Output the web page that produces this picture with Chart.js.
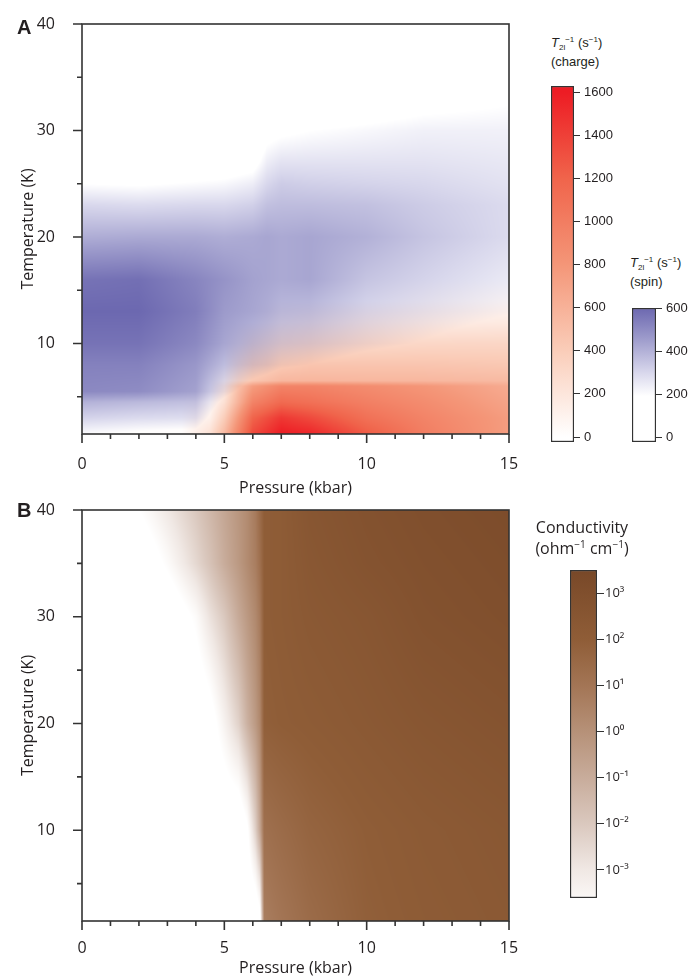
<!DOCTYPE html>
<html>
<head>
<meta charset="utf-8">
<script src="https://cdn.jsdelivr.net/npm/chart.js@4.4.0/dist/chart.umd.min.js"></script>
<style>
  body { margin: 0; background: #fff; width: 691px; height: 978px; position: relative; overflow: hidden; }
  canvas { position: absolute; }
  .lbl { position: absolute; white-space: nowrap; color: #231f20; }
  .panel { font-family: "Liberation Sans", Arial, sans-serif; font-weight: bold; font-size: 20px; line-height: 20px; }
  .cbt { font-family: "Liberation Sans", Arial, sans-serif; font-size: 13px; line-height: 17px; }
  .cond { font-family: "Open Sans", sans-serif; font-size: 16px; line-height: 21px; text-align: center; width: 110px; }
  .sb { font-size: 8px; position: relative; top: 3px; }
  .sp { font-size: 8px; position: relative; top: -5px; }
  .sp2 { font-size: 10px; position: relative; top: -6px; }
</style>
</head>
<body>
<canvas id="chartA" width="520" height="500" style="left:0;top:0"></canvas>
<canvas id="chartB" width="520" height="492" style="left:0;top:486px"></canvas>
<canvas id="barCharge" width="70" height="376" style="left:549px;top:76px"></canvas>
<canvas id="barSpin" width="70" height="154" style="left:630px;top:298px"></canvas>
<canvas id="barCond" width="80" height="348" style="left:568px;top:560px"></canvas>

<div class="lbl panel" style="left:17px;top:17px">A</div>
<div class="lbl panel" style="left:17px;top:500px">B</div>
<div class="lbl cbt" style="left:551px;top:34px"><i>T</i><span class="sb">2l</span><span class="sp">−1</span> (s<span class="sp">−1</span>)<br>(charge)</div>
<div class="lbl cbt" style="left:630px;top:254px"><i>T</i><span class="sb">2l</span><span class="sp">−1</span> (s<span class="sp">−1</span>)<br>(spin)</div>
<div class="lbl cond" style="left:527px;top:517px">Conductivity<br>(ohm<span class="sp2">−1</span> cm<span class="sp2">−1</span>)</div>

<script>
// axes
const pressureTicks = [0, 5, 10, 15];
const pressureMinorTicks = [1, 2, 3, 4, 6, 7, 8, 9, 11, 12, 13, 14];
const temperatureTicks = [10, 20, 30, 40];
const temperatureMinorTicks = [5, 15, 25, 35];

// spin T2l^-1 (s^-1): rows = temperature (K), cols = pressure (kbar)
const spinPressures = [0, 2, 4, 5, 6, 6.5, 7, 8, 10, 12, 15];
const spinTemps = [1.5, 3, 4.5, 5.5, 8, 10, 13, 16, 20, 23, 25, 27, 30, 33, 40];
const spinRate = [
  [200, 170, 150, 0, 0, 0, 0, 0, 0, 0, 0],
  [310, 290, 280, 60, 0, 0, 0, 0, 0, 0, 0],
  [400, 380, 360, 150, 0, 0, 0, 0, 0, 0, 0],
  [510, 500, 440, 250, 100, 50, 0, 0, 0, 0, 0],
  [530, 530, 470, 370, 300, 270, 220, 190, 120, 60, 0],
  [570, 570, 510, 430, 370, 340, 310, 290, 230, 180, 100],
  [600, 600, 540, 460, 430, 410, 380, 370, 300, 260, 200],
  [570, 580, 520, 480, 440, 430, 420, 430, 350, 310, 250],
  [410, 420, 420, 410, 420, 430, 420, 430, 400, 350, 290],
  [300, 290, 300, 300, 320, 360, 370, 370, 360, 330, 290],
  [190, 180, 200, 210, 240, 300, 330, 320, 310, 300, 270],
  [100, 90, 110, 120, 150, 240, 270, 270, 270, 270, 255],
  [0, 0, 0, 0, 60, 150, 170, 190, 210, 230, 230],
  [0, 0, 0, 0, 0, 0, 50, 80, 110, 150, 180],
  [0, 0, 0, 0, 0, 0, 0, 0, 0, 0, 0]
];

// charge T2l^-1 (s^-1)
const chargePressures = [0, 3.5, 4.5, 5, 5.5, 6, 7, 8, 10, 12, 15];
const chargeTemps = [1.5, 3, 4.5, 6, 6.5, 8, 10, 12, 14, 16];
const chargeRate = [
  [0, 20, 250, 550, 950, 1350, 1600, 1550, 1250, 1000, 750],
  [0, 0, 120, 400, 800, 1200, 1450, 1350, 1100, 950, 750],
  [0, 0, 40, 250, 600, 950, 1150, 1100, 980, 880, 700],
  [0, 0, 0, 150, 500, 750, 950, 950, 880, 800, 650],
  [0, 0, 0, 60, 300, 450, 560, 570, 560, 560, 540],
  [0, 0, 0, 0, 170, 310, 420, 460, 460, 460, 440],
  [0, 0, 0, 0, 40, 130, 220, 260, 300, 320, 330],
  [0, 0, 0, 0, 0, 0, 60, 90, 130, 150, 170],
  [0, 0, 0, 0, 0, 0, 0, 0, 0, 30, 50],
  [0, 0, 0, 0, 0, 0, 0, 0, 0, 0, 0]
];

// log10 conductivity (ohm^-1 cm^-1)
const condPressures = [0, 2, 3, 4, 4.5, 5, 5.5, 5.8, 6.1, 6.25, 6.4, 7, 8, 10, 12, 15];
const condTemps = [1.5, 10, 20, 30, 35, 40];
const logConductivity = [
  [-5, -5, -5, -5, -5, -5, -5, -5, -5, -4.5, 0.7, 1.0, 1.4, 1.9, 2.1, 2.3],
  [-5, -5, -5, -5, -5, -5, -5, -4.2, -2.2, -0.8, 1.2, 1.4, 1.7, 2.0, 2.2, 2.4],
  [-5, -5, -5, -5, -4.5, -3.4, -2.3, -1.2, -0.3, 0.3, 1.9, 2.0, 2.1, 2.3, 2.5, 2.7],
  [-5, -5, -5, -3.8, -2.8, -2.0, -0.9, -0.3, 0.3, 0.8, 2.0, 2.1, 2.3, 2.5, 2.8, 3.0],
  [-5, -5, -3.8, -2.5, -1.8, -1.0, -0.3, 0.2, 0.7, 1.2, 2.0, 2.1, 2.4, 2.7, 2.9, 3.1],
  [-5, -4.0, -3.0, -2.0, -1.4, -0.8, -0.2, 0.2, 0.8, 1.4, 2.0, 2.1, 2.5, 2.8, 3.0, 3.2]
];

// colour bar ticks
const chargeBarTicks = [0, 200, 400, 600, 800, 1000, 1200, 1400, 1600];
const spinBarTicks = [0, 200, 400, 600];
const condBarTicks = [-3, -2, -1, 0, 1, 2, 3];

// colour maps
const spinColors = [[0, [255, 255, 255]], [190, [255, 255, 255]], [300, [216, 215, 236]], [450, [160, 158, 205]], [600, [108, 104, 176]]];
const chargeColors = [[0, [255, 255, 255]], [400, [250, 205, 185]], [800, [244, 150, 120]], [1200, [240, 100, 75]], [1600, [237, 28, 36]]];
const condColors = [[-4, [255, 255, 255]], [-3.6, [250, 247, 245]], [-3, [240, 232, 228]], [-2, [218, 200, 190]], [-1, [200, 172, 155]],
  [0, [182, 145, 120]], [1, [163, 117, 85]], [2, [143, 93, 55]], [3, [128, 79, 45]], [3.5, [120, 72, 40]]];

const FONT = '"Open Sans", "Noto Sans", sans-serif';
const BAR_FONT = '"Liberation Sans", Arial, sans-serif';
const INK = '#231f20';
const LINE = '#333';

function locate(xs, v) {
  const n = xs.length - 1;
  if (v <= xs[0]) return [0, 0, 0];
  if (v >= xs[n]) return [n, n, 0];
  let i = 0;
  while (xs[i + 1] < v) i++;
  return [i, i + 1, (v - xs[i]) / (xs[i + 1] - xs[i])];
}

function sampleGrid(g, p, t) {
  const [c0, c1, fx] = locate(g.xs, p);
  const [r0, r1, fy] = locate(g.ys, t);
  const a = g.z[r0][c0] * (1 - fx) + g.z[r0][c1] * fx;
  const b = g.z[r1][c0] * (1 - fx) + g.z[r1][c1] * fx;
  return a * (1 - fy) + b * fy;
}

function colorAt(stops, v) {
  if (v <= stops[0][0]) return stops[0][1];
  for (let k = 1; k < stops.length; k++) {
    if (v <= stops[k][0]) {
      const [v0, c0] = stops[k - 1];
      const [v1, c1] = stops[k];
      const f = (v - v0) / (v1 - v0);
      return [c0[0] + (c1[0] - c0[0]) * f, c0[1] + (c1[1] - c0[1]) * f, c0[2] + (c1[2] - c0[2]) * f];
    }
  }
  return stops[stops.length - 1][1];
}

// paints the grids into the chart area, fields are multiplied together
const heatmap = {
  id: 'heatmap',
  beforeDatasetsDraw(chart) {
    const {ctx, chartArea: a, scales: {x, y}} = chart;
    const fields = chart.data.datasets.filter(d => d.grid);
    const x0 = Math.round(a.left), y0 = Math.round(a.top);
    const w = Math.round(a.right) - x0, h = Math.round(a.bottom) - y0;
    const img = ctx.createImageData(w, h);
    const ps = [], ts = [];
    for (let i = 0; i < w; i++) ps.push(x.getValueForPixel(x0 + i + 0.5));
    for (let j = 0; j < h; j++) ts.push(y.getValueForPixel(y0 + j + 0.5));
    for (let j = 0; j < h; j++) {
      for (let i = 0; i < w; i++) {
        let r = 255, g = 255, b = 255;
        fields.forEach(f => {
          const c = colorAt(f.colors, sampleGrid(f.grid, ps[i], ts[j]));
          r = r * c[0] / 255; g = g * c[1] / 255; b = b * c[2] / 255;
        });
        const k = (j * w + i) * 4;
        img.data[k] = r; img.data[k + 1] = g; img.data[k + 2] = b; img.data[k + 3] = 255;
      }
    }
    ctx.putImageData(img, x0, y0);
  }
};

// box around the plot plus major/minor tick marks
const frame = {
  id: 'frame',
  afterDraw(chart) {
    const {ctx, chartArea: a, scales: {x, y}} = chart;
    ctx.save();
    ctx.strokeStyle = LINE;
    ctx.lineWidth = 1.6;
    ctx.strokeRect(a.left, a.top, a.right - a.left, a.bottom - a.top);
    ctx.beginPath();
    pressureTicks.forEach(v => { const px = x.getPixelForValue(v); ctx.moveTo(px, a.bottom); ctx.lineTo(px, a.bottom + 9); });
    pressureMinorTicks.forEach(v => { const px = x.getPixelForValue(v); ctx.moveTo(px, a.bottom); ctx.lineTo(px, a.bottom + 5); });
    temperatureTicks.forEach(v => { const py = y.getPixelForValue(v); ctx.moveTo(a.left, py); ctx.lineTo(a.left - 9, py); });
    temperatureMinorTicks.forEach(v => { const py = y.getPixelForValue(v); ctx.moveTo(a.left, py); ctx.lineTo(a.left - 5, py); });
    ctx.stroke();
    ctx.restore();
  }
};

function panelOptions(xAxisHeight, labelPad, titlePad) {
  const font = {family: FONT, size: 16};
  return {
    responsive: false,
    animation: false,
    events: [],
    layout: {padding: {top: 24, right: 11, left: 0, bottom: 0}},
    plugins: {legend: {display: false}, tooltip: {enabled: false}},
    scales: {
      x: {
        type: 'linear', min: 0, max: 15,
        afterBuildTicks: s => { s.ticks = pressureTicks.map(v => ({value: v})); },
        afterFit: s => { s.height = xAxisHeight; s.paddingLeft = 0; s.paddingRight = 0; },
        grid: {display: false}, border: {display: false},
        ticks: {padding: labelPad, color: INK, font, maxRotation: 0, autoSkip: false},
        title: {display: true, text: 'Pressure (kbar)', color: INK, font, padding: {top: 0, bottom: titlePad}}
      },
      y: {
        type: 'linear', min: 1.5, max: 40,
        afterBuildTicks: s => { s.ticks = temperatureTicks.map(v => ({value: v})); },
        afterFit: s => { s.width = 82; s.paddingTop = 0; s.paddingBottom = 0; },
        grid: {display: false}, border: {display: false},
        ticks: {padding: 19, color: INK, font},
        title: {display: true, text: 'Temperature (K)', color: INK, font, padding: {top: 19, bottom: 0}}
      }
    }
  };
}

new Chart(document.getElementById('chartA'), {
  type: 'scatter',
  data: {
    datasets: [
      {label: 'spin', data: [], grid: {xs: spinPressures, ys: spinTemps, z: spinRate}, colors: spinColors},
      {label: 'charge', data: [], grid: {xs: chargePressures, ys: chargeTemps, z: chargeRate}, colors: chargeColors}
    ]
  },
  options: panelOptions(66, 13, 2),
  plugins: [heatmap, frame]
});

new Chart(document.getElementById('chartB'), {
  type: 'scatter',
  data: {
    datasets: [
      {label: 'conductivity', data: [], grid: {xs: condPressures, ys: condTemps, z: logConductivity}, colors: condColors}
    ]
  },
  options: panelOptions(57, 10, 0),
  plugins: [heatmap, frame]
});

// colour bars: one floating bar spanning the scale, filled with the colour map
function colorBar(id, min, max, ticks, colors, axisWidth, tickLen, pad, font, fmt) {
  new Chart(document.getElementById(id), {
    type: 'bar',
    data: {
      labels: [''],
      datasets: [{
        data: [[min, max]],
        barPercentage: 1, categoryPercentage: 1,
        borderColor: LINE, borderWidth: 1.5, borderSkipped: false,
        backgroundColor: c => {
          const chart = c.chart;
          if (!chart.chartArea) return 'transparent';
          const ys = chart.scales.y;
          const g = chart.ctx.createLinearGradient(0, ys.getPixelForValue(min), 0, ys.getPixelForValue(max));
          const add = v => {
            const col = colorAt(colors, v).map(Math.round);
            g.addColorStop((v - min) / (max - min), 'rgb(' + col.join(',') + ')');
          };
          add(min);
          colors.forEach(s => { if (s[0] > min && s[0] < max) add(s[0]); });
          add(max);
          return g;
        }
      }]
    },
    options: {
      responsive: false,
      animation: false,
      events: [],
      layout: {padding: {top: 10, bottom: 10, left: 2, right: 0}},
      plugins: {legend: {display: false}, tooltip: {enabled: false}},
      scales: {
        x: {display: false},
        y: {
          position: 'right', min, max,
          afterBuildTicks: s => { s.ticks = ticks.map(v => ({value: v})); },
          afterFit: s => { s.width = axisWidth; s.paddingTop = 0; s.paddingBottom = 0; },
          grid: {display: true, drawOnChartArea: false, drawTicks: true, tickLength: tickLen, color: LINE, lineWidth: 1},
          border: {display: false},
          ticks: {padding: pad, color: INK, font, callback: fmt}
        }
      }
    }
  });
}

const SUP = {'-': '⁻', '0': '⁰', '1': '¹', '2': '²', '3': '³'};

colorBar('barCharge', -23, 1628, chargeBarTicks, chargeColors, 45, 6, 4, {family: BAR_FONT, size: 13}, v => String(v));
colorBar('barSpin', -23, 600, spinBarTicks, spinColors, 44, 6, 4, {family: BAR_FONT, size: 13}, v => String(v));
colorBar('barCond', -3.61, 3.5, condBarTicks, condColors, 51, 7, 1, {family: FONT, size: 13},
  v => '10' + String(v).split('').map(ch => SUP[ch]).join(''));
</script>
</body>
</html>
